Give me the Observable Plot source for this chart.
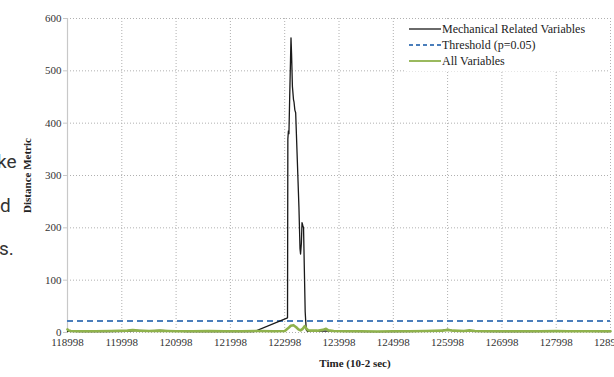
<!DOCTYPE html>
<html>
<head>
<meta charset="utf-8">
<script src="https://cdn.jsdelivr.net/npm/d3@7"></script>
<script src="https://cdn.jsdelivr.net/npm/@observablehq/plot@0.6"></script>
<style>
  body { margin: 0; background: #fff; }
  #wrap { position: relative; width: 614px; height: 377px; overflow: hidden; background: #fff; }
  .stray { position: absolute; font-family: "Liberation Sans Narrow", "Roboto", sans-serif; font-size: 19px; color: #333; }
  #legend { position: absolute; left: 405px; top: 21px; background: #fff; padding: 0 6px 2px 4px;
            font-family: 'Liberation Serif', 'DejaVu Serif', serif; font-size: 12px; color: #222; }
  #legend .item { display: flex; align-items: center; height: 16px; }
  #legend .item span { font-family: 'Liberation Serif', serif; }
  #legend svg { margin-right: 1px; }
</style>
</head>
<body>
<div id="wrap">
  <span class="stray" style="left:-3px; top:150px;">ke</span>
  <span class="stray" style="left:0px; top:194px;">d</span>
  <span class="stray" style="left:-1px; top:237px;">s.</span>
</div>
<div id="legend"></div>
<script>
// ---- data ----
const xTicks = [118998, 119998, 120998, 121998, 122998, 123998, 124998, 125998, 126998, 127998, 128998];
const yTicks = [0, 100, 200, 300, 400, 500, 600];
const threshold = 22;

const mechX = [118998,119300,119700,120100,120300,120500,120700,120900,121200,121600,122000,122300,122433,
  123050,123056,123066,123076,123090,123105,123114,123125,123140,123160,123170,123185,123200,123230,123260,
  123280,123290,123305,123317,123330,123345,123360,123375,123385,123395,123420,123600,124000,124500,125000,
  125500,125900,126000,126100,126400,127000,127500,128000,128300,128600,128998];
const mechY = [2,1.5,1.5,2,4,3,4,3,1.5,1.5,1.5,1.5,1.5,
  28,370,385,380,450,520,563,530,470,445,440,425,420,330,240,
  160,150,170,210,205,200,120,40,22,5,2,3,2,1.5,1.5,
  2,4,6,3,2,1.5,1.5,2,3,2,1.5];

const allX = [118998,119020,119060,119200,119500,119800,120100,120200,120300,120500,120700,120850,121000,
  121300,121600,121900,122200,122500,122800,123000,123060,123110,123160,123210,123250,123290,123330,123365,
  123395,123430,123480,123600,123700,123760,123800,123900,124100,124400,124700,125000,125300,125600,125900,
  126000,126100,126300,126400,126500,126800,127100,127400,127700,128000,128200,128400,128700,128998];
const allY = [6,4,3,2.5,2.5,3,3.5,4.5,3.5,3,3.5,3,2.5,
  2.5,3,2.5,2.5,3,2.5,3,8,13,14,10,6,4,7,12,
  8,4,3.5,3.5,5,7,4,3,2.5,2.5,2,2.5,2.5,3,3.5,
  5,3.5,3,4,3,2.5,2.5,2.5,2.5,3,2.5,2.5,2.5,2.5];

const seriesNames = ["Mechanical Related Variables", "Threshold (p=0.05)", "All Variables"];
const seriesColors = ["#1a1a1a", "#4a7ebb", "#8fb24c"];
const xLabel = "Time (10-2 sec)";
const yLabel = "Distance Metric";

const mech = mechX.map((x, i) => ({x, y: mechY[i]}));
const all = allX.map((x, i) => ({x, y: allY[i]}));

const chart = Plot.plot({
  width: 614,
  height: 377,
  marginLeft: 67,
  marginRight: 4,
  marginTop: 18,
  marginBottom: 45,
  style: {fontFamily: "Liberation Serif, serif", fontSize: "11px", background: "transparent", color: "#333"},
  x: {domain: [xTicks[0], xTicks[xTicks.length - 1]]},
  y: {domain: [0, 600]},
  marks: [
    Plot.gridX(xTicks, {stroke: "#b0b0b0", strokeOpacity: 1, strokeDasharray: "1,2"}),
    Plot.gridY(yTicks, {stroke: "#b0b0b0", strokeOpacity: 1, strokeDasharray: "1,2"}),
    Plot.ruleX([xTicks[0]], {stroke: "#c8c8c8", strokeWidth: 1.2}),
    Plot.axisY(yTicks, {tickSize: 4, tickPadding: 2, stroke: "#c8c8c8", fill: "#333",
      label: yLabel, labelAnchor: "center", labelArrow: false, labelOffset: 44}),
    Plot.axisX(xTicks, {tickSize: 0, tickPadding: 6, fill: "#333", tickFormat: d => String(d), label: null}),
    Plot.text([xLabel], {frameAnchor: "bottom", dy: 34, dx: 16, fontWeight: "bold", fill: "#222", fontSize: 11}),
    Plot.ruleY([threshold], {stroke: seriesColors[1], strokeWidth: 2, strokeDasharray: "6,4"}),
    Plot.line(mech, {x: "x", y: "y", stroke: seriesColors[0], strokeWidth: 1.3}),
    Plot.line(all, {x: "x", y: "y", stroke: seriesColors[2], strokeWidth: 2.6})
  ]
});
d3.select(chart).selectAll("g[aria-label='y-axis label']").attr("font-weight", "bold").attr("fill", "#222");
const wrapEl = document.getElementById("wrap");
chart.style.position = "absolute"; chart.style.left = "0"; chart.style.top = "0";
wrapEl.appendChild(chart);
wrapEl.appendChild(document.getElementById("legend"));

// legend
const legend = d3.select("#legend");
const dashes = [null, "4,3", null];
const widths = [1.3, 2, 1.8];
seriesNames.forEach((name, i) => {
  const item = legend.append("div").attr("class", "item");
  const svg = item.append("svg").attr("width", 32).attr("height", 10);
  svg.append("line").attr("x1", 0).attr("x2", 32).attr("y1", 5).attr("y2", 5)
    .attr("stroke", seriesColors[i]).attr("stroke-width", widths[i])
    .attr("stroke-dasharray", dashes[i]);
  item.append("span").text(name);
});
</script>
</body>
</html>
